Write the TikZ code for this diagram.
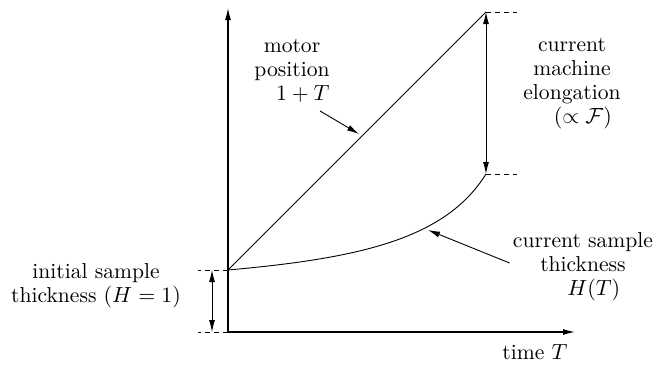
\documentclass[tikz,border=0pt]{standalone}
\usetikzlibrary{arrows.meta}
\begin{document}
\begin{tikzpicture}[
    x=0.5pt, y=0.5pt,
    font=\fontsize{10.8pt}{12pt}\selectfont,
    >={Latex[length=6pt,width=3pt]},
    axis/.style={->, line width=0.6pt},
    guide/.style={line width=0.5pt, dash pattern=on 2.3pt off 2.2pt},
    lbl/.style={align=center, inner sep=1.5pt}
]
\useasboundingbox (-228,-33) rectangle (426,332);

\coordinate (O) at (0,0);
\coordinate (H) at (0,62);
\coordinate (top) at (258,320);
\coordinate (cend) at (258,158);
\coordinate (ytip) at (0,324);
\coordinate (xtip) at (347,0);

% axes
\draw[axis] (O) -- (ytip);
\draw[axis] (O) -- (xtip);
\node[lbl] (time) at (307,-20) {time $T$};

% motor position and sample thickness
\draw[line width=0.45pt] (H) -- (top);
\draw[line width=0.45pt] (H) .. controls (135,74) and (218,94) .. (cend);

% dashed guides
\draw[guide] (O) -- ([xshift=-15pt]O);
\draw[guide] (H) -- ([xshift=-15pt]H);
\draw[guide] (top) -- ([xshift=15.5pt]top);
\draw[guide] (cend) -- ([xshift=15.5pt]cend);

% double arrows
\draw[<->, line width=0.45pt] ([xshift=-8pt]H) -- ([xshift=-8pt]O);
\draw[<->, line width=0.45pt] (top) -- (cend);

% labels
\node[lbl] (motor) at (64,261) {motor\\position\\\quad$1+T$};
\node[lbl] (elong) at (344,248) {current\\machine\\elongation\\\quad$(\propto\mathcal{F})$};
\node[lbl] (sample) at (355,65) {current sample\\thickness\\\quad$H(T)$};
\node[lbl] (init) at (-132,46) {initial sample\\thickness $(H=1)$};

\coordinate (mpt) at (131,198);
\coordinate (hpt) at (200,102);
\draw[->, line width=0.45pt] ([shift={(-13,-5)}]motor.south east) -- (mpt);
\draw[->, line width=0.45pt] ([yshift=2pt]sample.west) -- (hpt);
\end{tikzpicture}
\end{document}
